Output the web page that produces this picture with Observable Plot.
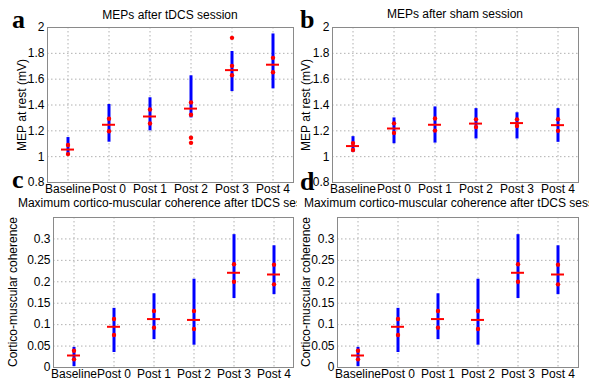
<!DOCTYPE html>
<html>
<head>
<meta charset="utf-8">
<script src="https://cdn.jsdelivr.net/npm/d3@7"></script>
<script src="https://cdn.jsdelivr.net/npm/@observablehq/plot@0.6"></script>
<style>
  html, body { margin: 0; padding: 0; background: #fff; }
  #root { position: relative; width: 589px; height: 380px; overflow: hidden; background: #fff;
          font-family: "Liberation Sans", Arial, sans-serif; color: #000; }
  .panel { position: absolute; overflow: hidden; }
  .panel svg { position: absolute; left: 0; top: 0; }
  .title { position: absolute; width: 500px; text-align: center; white-space: nowrap; font-size: 12px; line-height: 12px; }
  .ylab { position: absolute; width: 200px; text-align: center; white-space: nowrap; font-size: 12px; line-height: 12px;
          transform: rotate(-90deg); transform-origin: 50% 50%; }
  .letter { position: absolute; font-family: "Liberation Serif", "DejaVu Serif", serif; font-weight: bold; font-size: 26px; line-height: 26px; }
</style>
</head>
<body>
<div id="root"></div>
<script>
// ---------- data ----------
const categories = ["Baseline", "Post 0", "Post 1", "Post 2", "Post 3", "Post 4"];

// Panel a: MEPs after tDCS session
const mepTdcsMean = [1.055, 1.247, 1.311, 1.372, 1.670, 1.712];
const mepTdcsLow  = [1.010, 1.112, 1.200, 1.300, 1.504, 1.525];
const mepTdcsHigh = [1.148, 1.404, 1.456, 1.626, 1.814, 1.950];
const mepTdcsDots = [[1.090, 1.020], [1.293, 1.197], [1.365, 1.257], [1.420, 1.324, 1.146, 1.107], [1.920, 1.703, 1.630], [1.765, 1.654]];

// Panel b: MEPs after sham session
const mepShamMean = [1.082, 1.218, 1.247, 1.256, 1.260, 1.244];
const mepShamLow  = [1.032, 1.100, 1.105, 1.137, 1.137, 1.111];
const mepShamHigh = [1.155, 1.300, 1.385, 1.372, 1.340, 1.372];
const mepShamDots = [[1.105, 1.052], [1.258, 1.184], [1.295, 1.202], [1.289, 1.229], [1.289, 1.237], [1.290, 1.200]];

// Panels c and d: Maximum cortico-muscular coherence after tDCS session
const cmcMean = [0.028, 0.095, 0.113, 0.111, 0.221, 0.217];
const cmcLow  = [0.002, 0.035, 0.065, 0.052, 0.161, 0.170];
const cmcHigh = [0.047, 0.138, 0.172, 0.206, 0.310, 0.284];
const cmcDots = [[0.039, 0.019], [0.113, 0.076], [0.132, 0.093], [0.132, 0.090], [0.241, 0.200], [0.240, 0.194]];

const mepTicks = [0.8, 1, 1.2, 1.4, 1.6, 1.8, 2];
const cmcTicks = [0, 0.05, 0.1, 0.15, 0.2, 0.25, 0.3];

const titleTdcs = "MEPs after tDCS session";
const titleSham = "MEPs after sham session";
const titleCmc = "Maximum cortico-muscular coherence after tDCS session";
const labelMep = "MEP at rest (mV)";
const labelCmc = "Cortico-muscular coherence";

// ---------- drawing ----------
const root = document.getElementById("root");
const fmt = d => String(+d.toFixed(2));

function panel(cfg) {
  const box = document.createElement("div");
  box.className = "panel";
  Object.assign(box.style, {left: cfg.left + "px", top: cfg.top + "px", width: cfg.w + "px", height: cfg.h + "px"});
  const rows = categories.map((c, i) => ({cat: c, mean: cfg.mean[i], lo: cfg.low[i], hi: cfg.high[i]}));
  const pts = [];
  categories.forEach((c, i) => cfg.dots[i].forEach(v => pts.push({cat: c, v})));
  const chart = Plot.plot({
    width: cfg.w, height: cfg.h,
    marginLeft: cfg.ml, marginRight: cfg.mr, marginTop: cfg.mt, marginBottom: cfg.mb,
    style: {fontSize: "12px", fontFamily: "'Liberation Sans', Arial, sans-serif", background: "transparent", color: "#000"},
    x: {type: "band", domain: categories, paddingInner: 0.68, paddingOuter: 0.34},
    y: {domain: cfg.yDomain},
    marks: [
      Plot.gridX({stroke: "#b0b0b0", strokeOpacity: 1, strokeDasharray: "1.5,2.5"}),
      Plot.gridY(cfg.ticks, {stroke: "#b0b0b0", strokeOpacity: 1, strokeDasharray: "1.5,2.5"}),
      Plot.frame({stroke: "#8a8a8a"}),
      Plot.ruleX(rows, {x: "cat", y1: "lo", y2: "hi", stroke: "#0000ff", strokeWidth: 3}),
      Plot.tickY(rows, {x: "cat", y: "mean", stroke: "#ff0000", strokeWidth: 2}),
      Plot.dot(pts, {x: "cat", y: "v", fill: "#ff0000", r: 2.2}),
      Plot.axisX({tickSize: 0, tickPadding: 2, label: null, fontSize: 12}),
      Plot.axisY({ticks: cfg.ticks, tickFormat: fmt, tickSize: 0, tickPadding: 3, label: null, fontSize: 12})
    ]
  });
  box.appendChild(chart);
  const t = document.createElement("div");
  t.className = "title";
  t.textContent = cfg.title;
  Object.assign(t.style, {left: (cfg.titleX - 250) + "px", top: (cfg.titleY - 6) + "px"});
  box.appendChild(t);
  const yl = document.createElement("div");
  yl.className = "ylab";
  yl.textContent = cfg.ylabel;
  Object.assign(yl.style, {left: (cfg.ylabX - 100) + "px", top: (cfg.ylabY - 6) + "px"});
  box.appendChild(yl);
  root.appendChild(box);
}

panel({left: 0, top: 0, w: 297, h: 197, ml: 47, mr: 4, mt: 27, mb: 15,
  mean: mepTdcsMean, low: mepTdcsLow, high: mepTdcsHigh, dots: mepTdcsDots,
  yDomain: [0.8, 2], ticks: mepTicks, title: titleTdcs, titleX: 170, titleY: 15,
  ylabel: labelMep, ylabX: 22, ylabY: 105});

panel({left: 297, top: 0, w: 292, h: 197, ml: 35, mr: 11, mt: 27, mb: 15,
  mean: mepShamMean, low: mepShamLow, high: mepShamHigh, dots: mepShamDots,
  yDomain: [0.8, 2], ticks: mepTicks, title: titleSham, titleX: 158, titleY: 14,
  ylabel: labelMep, ylabX: 9, ylabY: 105});

panel({left: 0, top: 197, w: 297, h: 183, ml: 53, mr: 4, mt: 20, mb: 13,
  mean: cmcMean, low: cmcLow, high: cmcHigh, dots: cmcDots,
  yDomain: [0, 0.35], ticks: cmcTicks, title: titleCmc, titleX: 171, titleY: 6,
  ylabel: labelCmc, ylabX: 13, ylabY: 95});

panel({left: 297, top: 197, w: 292, h: 183, ml: 40, mr: 11, mt: 20, mb: 13,
  mean: cmcMean, low: cmcLow, high: cmcHigh, dots: cmcDots,
  yDomain: [0, 0.35], ticks: cmcTicks, title: titleCmc, titleX: 160, titleY: 6,
  ylabel: labelCmc, ylabX: 9, ylabY: 95});

// panel letters
[["a", 12, 7], ["b", 300, 7], ["c", 12, 167], ["d", 300, 169]].forEach(([s, x, y]) => {
  const l = document.createElement("div");
  l.className = "letter";
  l.textContent = s;
  Object.assign(l.style, {left: x + "px", top: y + "px"});
  root.appendChild(l);
});
</script>
</body>
</html>
